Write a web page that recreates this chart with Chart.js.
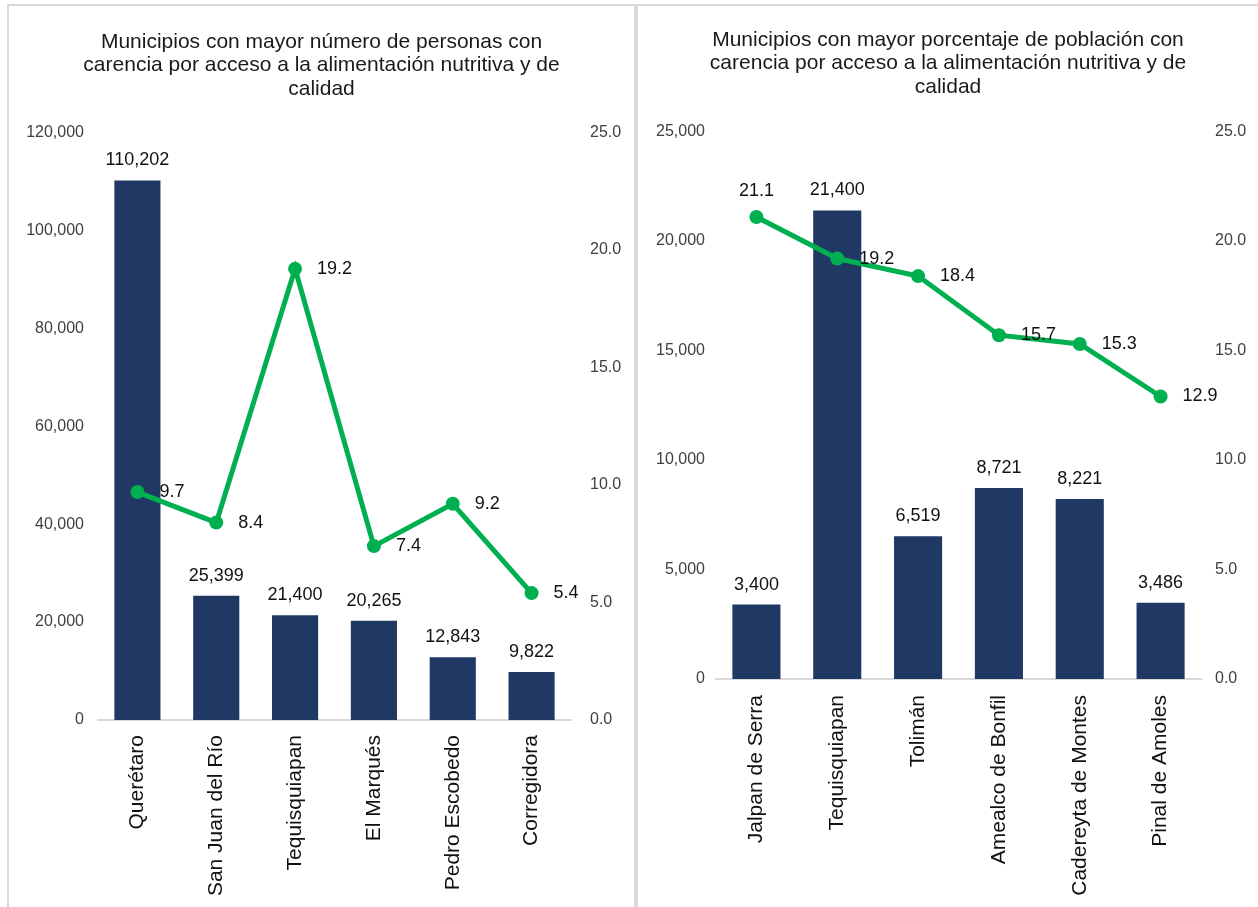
<!DOCTYPE html>
<html>
<head>
<meta charset="utf-8">
<script src="https://cdn.jsdelivr.net/npm/chart.js@4.4.1/dist/chart.umd.min.js"></script>
<style>
  body { margin: 0; background: #fff; overflow: hidden; width: 1258px; height: 907px; position: relative; }
  .panel { position: absolute; top: 4px; border: 2px solid #d9d9d9; background: #fff; }
  #panel-left { left: 7px; width: 625px; height: 910px; }
  #panel-right { left: 636px; width: 640px; height: 910px; }
  canvas { display: block; }
</style>
</head>
<body>
<div class="panel" id="panel-left"><canvas id="chart-personas" width="625" height="901"></canvas></div>
<div class="panel" id="panel-right"><canvas id="chart-porcentaje" width="620" height="901"></canvas></div>
<script>
// ---------------- datos ----------------
const municipiosPersonas = ['Querétaro', 'San Juan del Río', 'Tequisquiapan', 'El Marqués', 'Pedro Escobedo', 'Corregidora'];
const personasCarencia = [110202, 25399, 21400, 20265, 12843, 9822];
const pctPersonas = [9.7, 8.4, 19.2, 7.4, 9.2, 5.4];

const municipiosPorcentaje = ['Jalpan de Serra', 'Tequisquiapan', 'Tolimán', 'Amealco de Bonfil', 'Cadereyta de Montes', 'Pinal de Amoles'];
const personasPorcentaje = [3400, 21400, 6519, 8721, 8221, 3486];
const pctPorcentaje = [21.1, 19.2, 18.4, 15.7, 15.3, 12.9];

const tituloPersonas = ['Municipios con mayor número de personas con', 'carencia por acceso a la alimentación nutritiva y de', 'calidad'];
const tituloPorcentaje = ['Municipios con mayor porcentaje de población con', 'carencia por acceso a la alimentación nutritiva y de', 'calidad'];

const FONT = '"Liberation Sans", Arial, Helvetica, sans-serif';
const AZUL = '#203864';
const VERDE = '#00b050';

const fmtMiles = v => Number(v).toLocaleString('en-US');

// etiquetas de valor sobre barras y junto a los puntos de la línea
const valueLabels = {
  id: 'valueLabels',
  afterDatasetsDraw(chart, args, opts) {
    const ctx = chart.ctx;
    ctx.save();
    ctx.font = '18px ' + FONT;
    ctx.fillStyle = '#111';
    chart.data.datasets.forEach((ds, i) => {
      const meta = chart.getDatasetMeta(i);
      meta.data.forEach((el, j) => {
        const v = ds.data[j];
        if (ds.type === 'bar') {
          ctx.textAlign = 'center';
          ctx.textBaseline = 'middle';
          ctx.fillText(fmtMiles(v), el.x, el.y - 20);
        } else {
          const pos = (opts.posLinea || [])[j] || 'right';
          if (pos === 'above') {
            ctx.textAlign = 'center';
            ctx.textBaseline = 'middle';
            ctx.fillText(v.toFixed(1), el.x, el.y - 26);
          } else {
            ctx.textAlign = 'left';
            ctx.textBaseline = 'middle';
            ctx.fillText(v.toFixed(1), el.x + 22, el.y);
          }
        }
      });
    });
    ctx.restore();
  }
};

function crearGrafica(id, cfg) {
  const ctx = document.getElementById(id);
  return new Chart(ctx, {
    data: {
      labels: cfg.labels,
      datasets: [{
        type: 'line',
        data: cfg.pct,
        yAxisID: 'y1',
        borderColor: VERDE,
        backgroundColor: VERDE,
        borderWidth: 5,
        pointRadius: 7,
        pointBackgroundColor: VERDE,
        pointBorderWidth: 0,
        tension: 0,
        order: 0
      }, {
        type: 'bar',
        data: cfg.bars,
        yAxisID: 'y',
        backgroundColor: AZUL,
        barPercentage: cfg.barPct,
        categoryPercentage: 1,
        order: 1
      }]
    },
    options: {
      responsive: false,
      animation: false,
      layout: { padding: 0 },
      plugins: {
        legend: { display: false },
        tooltip: { enabled: false },
        title: {
          display: true,
          text: cfg.title,
          color: '#1a1a1a',
          font: { family: FONT, size: 21, weight: 'normal', lineHeight: 1.12 },
          padding: cfg.titlePad
        },
        valueLabels: { posLinea: cfg.posLinea }
      },
      scales: {
        x: {
          grid: { display: false, drawTicks: false },
          border: { display: true, color: '#d9d9d9', width: 2 },
          ticks: {
            color: '#111',
            font: { family: FONT, size: 21 },
            minRotation: 90,
            maxRotation: 90,
            padding: cfg.xPad,
            autoSkip: false
          },
          afterFit: s => { s.height = cfg.xHeight; }
        },
        y: {
          position: 'left',
          min: 0,
          max: cfg.yMax,
          grid: { display: false, drawTicks: false },
          border: { display: false },
          ticks: {
            stepSize: cfg.yStep,
            color: '#404040',
            padding: cfg.yPad,
            font: { family: FONT, size: 16 },
            callback: v => fmtMiles(v)
          },
          afterFit: s => { s.width = cfg.yWidth; }
        },
        y1: {
          position: 'right',
          min: 0,
          max: 25,
          grid: { display: false, drawTicks: false },
          border: { display: false },
          ticks: {
            stepSize: 5,
            color: '#404040',
            padding: cfg.y1Pad,
            font: { family: FONT, size: 16 },
            callback: v => Number(v).toFixed(1)
          },
          afterFit: s => { s.width = cfg.y1Width; }
        }
      }
    },
    plugins: [valueLabels]
  });
}

crearGrafica('chart-personas', {
  labels: municipiosPersonas,
  bars: personasCarencia,
  pct: pctPersonas,
  title: tituloPersonas,
  titlePad: { top: 24, bottom: 32 },
  yMax: 120000,
  yStep: 20000,
  barPct: 0.585,
  xHeight: 187,
  xPad: 15,
  yWidth: 89,
  yPad: 14,
  y1Width: 63,
  y1Pad: 19,
  posLinea: []
});

crearGrafica('chart-porcentaje', {
  labels: municipiosPorcentaje,
  bars: personasPorcentaje,
  pct: pctPorcentaje,
  title: tituloPorcentaje,
  titlePad: { top: 22, bottom: 33 },
  yMax: 25000,
  yStep: 5000,
  barPct: 0.595,
  xHeight: 228,
  xPad: 16,
  yWidth: 78,
  yPad: 11,
  y1Width: 57,
  y1Pad: 14,
  posLinea: ['above']
});
</script>
</body>
</html>
